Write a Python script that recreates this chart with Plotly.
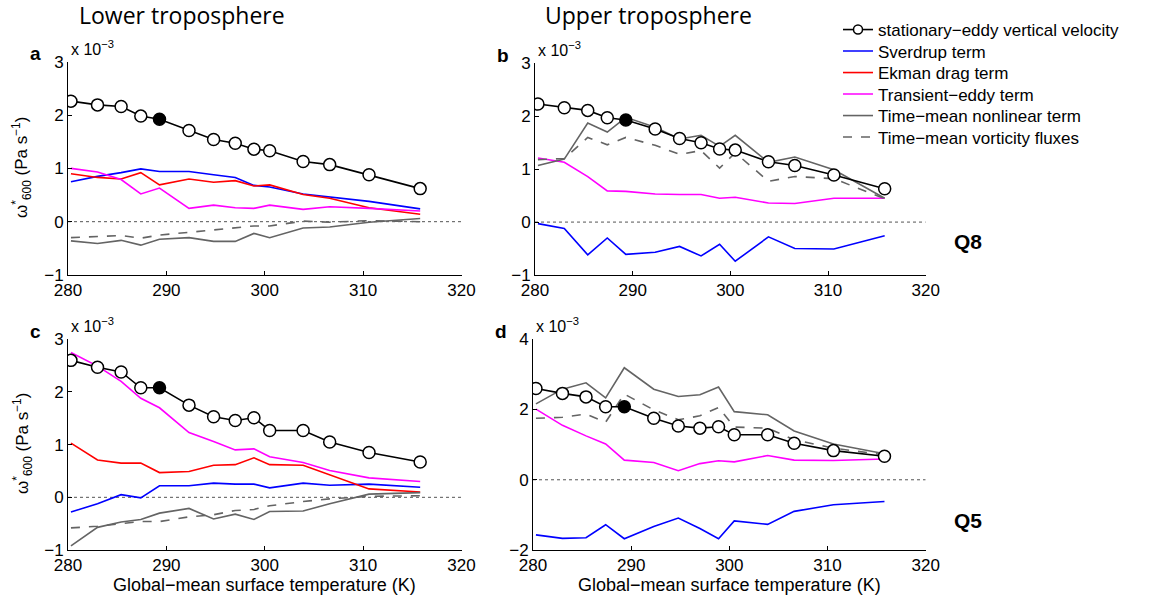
import plotly.graph_objects as go

W, H = 1155, 601

# Global-mean surface temperature of each simulation (K)
temps = [280.3, 283.0, 285.4, 287.4, 289.3, 292.3, 294.8, 297.0, 298.9, 300.5, 303.9, 306.6, 310.6, 315.8]
ref_index = 4  # reference climate, drawn with a filled marker

# All vertical velocities in units of 1e-3 Pa/s
# (a) lower troposphere, Q8
a_omega = [2.26, 2.19, 2.16, 1.98, 1.92, 1.71, 1.54, 1.47, 1.36, 1.33, 1.13, 1.07, 0.88, 0.62]
a_sverdrup = [0.75, 0.85, 0.92, 0.99, 0.94, 0.94, 0.88, 0.83, 0.68, 0.65, 0.52, 0.46, 0.38, 0.24]
a_ekman = [0.90, 0.83, 0.80, 0.92, 0.69, 0.80, 0.74, 0.77, 0.67, 0.69, 0.51, 0.44, 0.26, 0.14]
a_transient = [1.00, 0.93, 0.79, 0.52, 0.63, 0.25, 0.31, 0.26, 0.25, 0.31, 0.23, 0.28, 0.25, 0.20]
a_nonlinear = [-0.36, -0.41, -0.35, -0.44, -0.33, -0.30, -0.37, -0.37, -0.22, -0.30, -0.12, -0.10, -0.01, 0.06]
a_vortflux = [-0.30, -0.28, -0.26, -0.31, -0.25, -0.20, -0.15, -0.12, -0.08, -0.08, 0.01, -0.01, 0.02, 0.00]

# (b) upper troposphere, Q8
b_omega = [2.23, 2.16, 2.11, 1.97, 1.93, 1.76, 1.58, 1.50, 1.38, 1.36, 1.14, 1.07, 0.89, 0.63]
b_sverdrup = [-0.03, -0.12, -0.62, -0.30, -0.61, -0.57, -0.46, -0.64, -0.42, -0.74, -0.28, -0.50, -0.51, -0.26]
b_transient = [1.21, 1.13, 0.86, 0.59, 0.58, 0.53, 0.52, 0.52, 0.45, 0.47, 0.36, 0.35, 0.45, 0.45]
b_nonlinear = [1.07, 1.19, 1.87, 1.70, 1.98, 1.79, 1.57, 1.64, 1.43, 1.64, 1.13, 1.23, 0.99, 0.45]
b_vortflux = [1.18, 1.20, 1.60, 1.46, 1.60, 1.45, 1.28, 1.35, 1.02, 1.31, 0.77, 0.86, 0.82, 0.44]

# (c) lower troposphere, Q5
c_omega = [2.60, 2.47, 2.38, 2.08, 2.08, 1.75, 1.53, 1.46, 1.51, 1.27, 1.27, 1.05, 0.85, 0.67]
c_sverdrup = [-0.28, -0.12, 0.05, -0.01, 0.22, 0.22, 0.27, 0.25, 0.25, 0.18, 0.27, 0.23, 0.25, 0.19]
c_ekman = [1.03, 0.71, 0.65, 0.65, 0.47, 0.49, 0.61, 0.62, 0.75, 0.62, 0.61, 0.43, 0.16, 0.10]
c_transient = [2.75, 2.49, 2.20, 1.88, 1.70, 1.23, 1.06, 0.90, 0.92, 0.77, 0.66, 0.51, 0.37, 0.30]
c_nonlinear = [-0.92, -0.57, -0.47, -0.42, -0.30, -0.21, -0.41, -0.32, -0.42, -0.27, -0.26, -0.12, 0.06, 0.09]
c_vortflux = [-0.58, -0.55, -0.50, -0.46, -0.46, -0.37, -0.33, -0.25, -0.23, -0.16, -0.08, -0.03, 0.02, 0.03]

# (d) upper troposphere, Q5
d_omega = [2.60, 2.46, 2.36, 2.08, 2.08, 1.75, 1.53, 1.47, 1.51, 1.28, 1.28, 1.04, 0.83, 0.67]
d_sverdrup = [-1.57, -1.67, -1.65, -1.28, -1.68, -1.33, -1.09, -1.39, -1.68, -1.17, -1.27, -0.90, -0.71, -0.62]
d_transient = [2.01, 1.55, 1.25, 1.02, 0.56, 0.49, 0.26, 0.46, 0.54, 0.51, 0.69, 0.56, 0.55, 0.59]
d_nonlinear = [2.16, 2.58, 2.76, 2.33, 3.19, 2.58, 2.37, 2.42, 2.64, 1.94, 1.85, 1.39, 1.02, 0.74]
d_vortflux = [1.75, 1.78, 1.87, 1.64, 2.44, 1.99, 1.71, 1.82, 2.06, 1.50, 1.47, 1.14, 0.90, 0.71]

series_names = [
    "stationary\u2212eddy vertical velocity",
    "Sverdrup term",
    "Ekman drag term",
    "Transient\u2212eddy term",
    "Time\u2212mean nonlinear term",
    "Time\u2212mean vorticity fluxes",
]

BLUE, RED, MAG, GRAY = "#0000ff", "#ff0000", "#ff00ff", "#646464"
FONT = "Liberation Sans, Arial, sans-serif"
TITLE_FONT = "Open Sans, Liberation Sans, sans-serif"

panels = [
    dict(key="a", ax=("x", "y"), omega=a_omega, sv=a_sverdrup, ek=a_ekman, tr=a_transient, nl=a_nonlinear, vf=a_vortflux,
         px=(68, 461.5), py=(61.7, 275), yr=(-1, 3), yt=[-1, 0, 1, 2, 3]),
    dict(key="b", ax=("x2", "y2"), omega=b_omega, sv=b_sverdrup, ek=None, tr=b_transient, nl=b_nonlinear, vf=b_vortflux,
         px=(535, 925.7), py=(63.3, 275), yr=(-1, 3), yt=[-1, 0, 1, 2, 3]),
    dict(key="c", ax=("x3", "y3"), omega=c_omega, sv=c_sverdrup, ek=c_ekman, tr=c_transient, nl=c_nonlinear, vf=c_vortflux,
         px=(68, 461.5), py=(339.3, 550), yr=(-1, 3), yt=[-1, 0, 1, 2, 3]),
    dict(key="d", ax=("x4", "y4"), omega=d_omega, sv=d_sverdrup, ek=None, tr=d_transient, nl=d_nonlinear, vf=d_vortflux,
         px=(533, 925.7), py=(339.3, 550), yr=(-2, 4), yt=[-2, 0, 2, 4]),
]

# one single-entry legend per series so the rows sit tightly stacked
legend_ids = ["legend", "legend2", "legend3", "legend4", "legend5", "legend6"]
legend_rows = [30, 51.5, 73, 94.5, 116, 137.5]

fig = go.Figure()
layout = {}
annotations = []
shapes = []


def px_ann(x, y, text, size, family=FONT, angle=0, xanchor="center", yanchor="middle"):
    annotations.append(dict(x=x / W, y=1 - y / H, xref="paper", yref="paper", text=text,
                            showarrow=False, textangle=angle, xanchor=xanchor, yanchor=yanchor,
                            font=dict(family=family, size=size, color="black")))


for i, p in enumerate(panels):
    xa, ya = p["ax"]
    first = i == 0
    xname = "xaxis" if xa == "x" else "xaxis" + xa[1:]
    yname = "yaxis" if ya == "y" else "yaxis" + ya[1:]

    common = dict(
        showgrid=False, zeroline=False, showline=True, linecolor="black", linewidth=1,
        ticks="inside", ticklen=4, tickcolor="black", mirror=False, automargin=False,
        tickfont=dict(family=FONT, size=17, color="black"),
    )
    layout[xname] = dict(common, domain=[p["px"][0] / W, p["px"][1] / W], range=[280, 320],
                         tickvals=[280, 290, 300, 310, 320], anchor=ya)
    layout[yname] = dict(common, domain=[1 - p["py"][1] / H, 1 - p["py"][0] / H], range=list(p["yr"]),
                         tickvals=p["yt"], ticktext=[str(v).replace("-", "\u2212") for v in p["yt"]], anchor=xa)

    # dotted zero line
    shapes.append(dict(type="line", xref=xa, yref=ya, x0=280, x1=320, y0=0, y1=0,
                       line=dict(color="#555555", width=1, dash="dot"), layer="below"))

    comps = [
        (p["sv"], 1, dict(color=BLUE, width=1.6)),
        (p["ek"], 2, dict(color=RED, width=1.6)),
        (p["tr"], 3, dict(color=MAG, width=1.6)),
        (p["nl"], 4, dict(color=GRAY, width=1.6)),
        (p["vf"], 5, dict(color=GRAY, width=1.6, dash="dash")),
    ]
    for vals, k, line in comps:
        if vals is None:
            continue
        fig.add_trace(go.Scatter(x=temps, y=vals, mode="lines", name=series_names[k], line=line,
                                 xaxis=xa, yaxis=ya, showlegend=first, legend=legend_ids[k]))

    fills = ["black" if k == ref_index else "white" for k in range(len(temps))]
    fig.add_trace(go.Scatter(
        x=temps, y=p["omega"], mode="lines+markers", name=series_names[0],
        line=dict(color="black", width=1.6),
        marker=dict(symbol="circle", size=12, color=fills, line=dict(color="black", width=1.5)),
        xaxis=xa, yaxis=ya, showlegend=False,
    ))

    # panel letter and exponent label
    px_ann(p["px"][0] - 40, p["py"][0] - 8, f"<b>{p['key']}</b>", 19, xanchor="left")
    px_ann(p["px"][0] + 1, p["py"][0] - 14, "x 10<sup>\u22123</sup>", 16, xanchor="left")

# legend key for the stationary-eddy series (smaller circle than on the curves)
fig.add_trace(go.Scatter(
    x=[None], y=[None], mode="lines+markers", name=series_names[0],
    line=dict(color="black", width=1.6),
    marker=dict(symbol="circle", size=9, color="white", line=dict(color="black", width=1.5)),
    xaxis="x", yaxis="y", showlegend=True, legend=legend_ids[0],
))

px_ann(182, 15, "Lower troposphere", 23, TITLE_FONT)
px_ann(648, 15, "Upper troposphere", 23, TITLE_FONT)

ylabel = "\u03c9<sup>*</sup><sub>600</sub> (Pa s<sup>\u22121</sup>)"
px_ann(22, 168, ylabel, 17, angle=-90)
px_ann(22, 444, ylabel, 17, angle=-90)

xlabel = "Global\u2212mean surface temperature (K)"
px_ann(264, 585, xlabel, 18)
px_ann(729, 585, xlabel, 18)

px_ann(968, 242, "<b>Q8</b>", 21)
px_ann(968, 520, "<b>Q5</b>", 21)

for lid, row in zip(legend_ids, legend_rows):
    layout[lid] = dict(x=838 / W, y=1 - row / H, xanchor="left", yanchor="middle",
                       font=dict(family=FONT, size=17, color="black"),
                       bgcolor="rgba(0,0,0,0)", borderwidth=0, itemwidth=30)

layout.update(
    width=W, height=H,
    margin=dict(l=0, r=0, t=0, b=0, pad=0, autoexpand=False),
    paper_bgcolor="white", plot_bgcolor="white",
    showlegend=True,
    annotations=annotations,
    shapes=shapes,
)
fig.update_layout(**layout)

fig.write_html("out.html")
